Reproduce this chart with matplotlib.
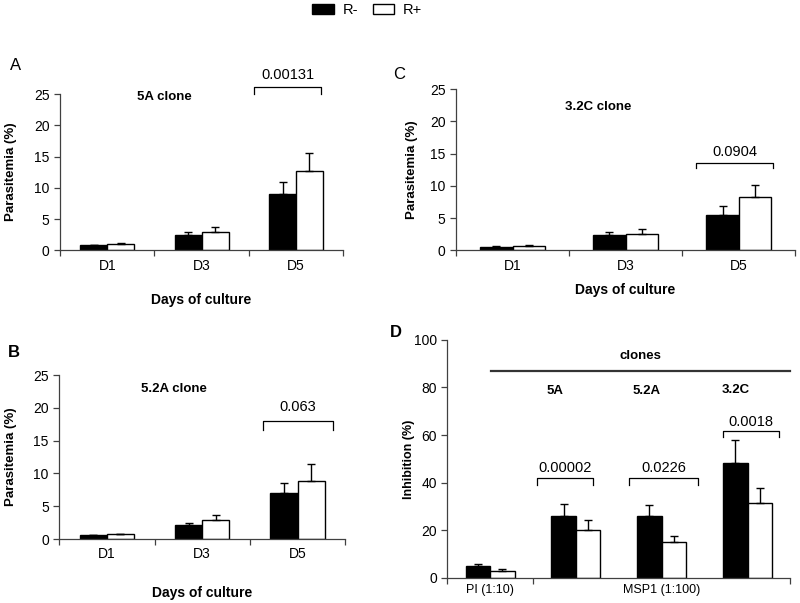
import numpy as np
import matplotlib
matplotlib.use('Agg')
import matplotlib.pyplot as plt
from matplotlib.patches import Patch

plt.rcParams['font.family'] = ['Liberation Sans', 'DejaVu Sans']
plt.rcParams['font.size'] = 10

# データ
days = ['D1', 'D3', 'D5']

a_rminus = [0.8, 2.4, 9.0]
a_rminus_err = [0.05, 0.5, 2.0]
a_rplus = [1.0, 3.0, 12.7]
a_rplus_err = [0.15, 0.7, 2.9]

b_rminus = [0.6, 2.1, 7.0]
b_rminus_err = [0.05, 0.35, 1.5]
b_rplus = [0.7, 2.9, 8.8]
b_rplus_err = [0.1, 0.8, 2.6]

c_rminus = [0.45, 2.3, 5.4]
c_rminus_err = [0.15, 0.5, 1.4]
c_rplus = [0.7, 2.6, 8.2]
c_rplus_err = [0.1, 0.7, 1.9]

d_groups = ['PI', '5A', '5.2A', '3.2C']
d_rminus = [4.9, 25.9, 25.9, 48.3]
d_rminus_err = [1.1, 5.3, 4.9, 9.5]
d_rplus = [3.1, 20.3, 15.1, 31.5]
d_rplus_err = [0.5, 3.9, 2.4, 6.1]

pvals_abc = ['0.00131', '0.063', '0.0904']
pvals_d = ['0.00002', '0.0226', '0.0018']

W = 0.285
AXCOL = '#404040'


def draw_bars(ax, rm, rm_err, rp, rp_err):
    x = np.arange(len(rm))
    ek = dict(ecolor='black', elinewidth=1, capsize=3, capthick=1)
    ax.bar(x - W / 2, rm, W, color='black', edgecolor='black', linewidth=1,
           yerr=[np.zeros(len(rm)), rm_err], error_kw=ek, zorder=2)
    ax.bar(x + W / 2, rp, W, color='white', edgecolor='black', linewidth=1,
           yerr=[np.zeros(len(rp)), rp_err], error_kw=ek, zorder=2)


def style_axes(ax, ymax, step):
    for s in ['top', 'right']:
        ax.spines[s].set_visible(False)
    for s in ['left', 'bottom']:
        ax.spines[s].set_linewidth(0.9)
        ax.spines[s].set_color(AXCOL)
    ax.set_ylim(0, ymax)
    ax.set_yticks(np.arange(0, ymax + 1, step))
    ax.tick_params(axis='y', direction='out', length=4, width=0.9, labelsize=10,
                   color=AXCOL)
    ax.tick_params(axis='x', which='major', direction='out', length=4, width=0.9,
                   color=AXCOL)
    ax.tick_params(axis='x', which='minor', length=0, labelsize=10, pad=6)


def bracket(ax, x0, x1, ytop, ybot, txt, ytxt):
    ax.plot([x0, x0, x1, x1], [ybot, ytop, ytop, ybot], color='black', lw=0.9,
            clip_on=False)
    ax.text((x0 + x1) / 2, ytxt, txt, ha='center', va='center', fontsize=10.5)


fig = plt.figure(figsize=(8, 6.03), dpi=100)

axA = fig.add_axes([0.075, 0.585, 0.354, 0.259])
axB = fig.add_axes([0.074, 0.106, 0.3575, 0.272])
axC = fig.add_axes([0.57, 0.585, 0.424, 0.267])
axD = fig.add_axes([0.559, 0.0415, 0.429, 0.395])

panels = [
    (axA, a_rminus, a_rminus_err, a_rplus, a_rplus_err, '5A clone', (0.61, 24.6),
     (1.56, 2.27, 26.1, 25.0, 28.0), -43 / 283, -0.32),
    (axB, b_rminus, b_rminus_err, b_rplus, b_rplus_err, '5.2A clone', (0.70, 22.8),
     (1.64, 2.375, 18.0, 16.7, 20.1), -42 / 286, -0.33),
    (axC, c_rminus, c_rminus_err, c_rplus, c_rplus_err, '3.2C clone', (0.76, 22.2),
     (1.62, 2.305, 13.6, 12.7, 15.2), -38 / 339, -0.25),
]

for i, (ax, rm, rme, rp, rpe, title, tpos, br, ylx, xly) in enumerate(panels):
    draw_bars(ax, rm, rme, rp, rpe)
    style_axes(ax, 25, 5)
    ax.set_xlim(-0.5, 2.5)
    ax.set_xticks([-0.5, 0.5, 1.5, 2.5])
    ax.set_xticklabels([])
    ax.set_xticks([0, 1, 2], minor=True)
    ax.set_xticklabels(days, minor=True)
    ax.text(tpos[0], tpos[1], title, ha='center', va='center', fontsize=9.5,
            fontweight='bold')
    bracket(ax, br[0], br[1], br[2], br[3], pvals_abc[i], br[4])
    ax.set_ylabel('Parasitemia (%)', fontsize=9.5, fontweight='bold')
    ax.yaxis.set_label_coords(ylx, 0.5)
    ax.text(0.5, xly, 'Days of culture', transform=ax.transAxes, ha='center',
            va='center', fontsize=10, fontweight='bold')

# パネルD
draw_bars(axD, d_rminus, d_rminus_err, d_rplus, d_rplus_err)
style_axes(axD, 100, 20)
axD.set_xlim(-0.5, 3.5)
axD.set_xticks([-0.5, 0.5, 3.5])
axD.set_xticklabels([])
axD.set_xticks([0, 2], minor=True)
axD.set_xticklabels(['PI (1:10)', 'MSP1 (1:100)'], minor=True)
axD.tick_params(axis='x', which='minor', labelsize=9, pad=4)
axD.set_ylabel('Inhibition (%)', fontsize=9, fontweight='bold')
axD.yaxis.set_label_coords(-32 / 343, 0.5)
bracket(axD, 0.55, 1.20, 42.0, 39.2, pvals_d[0], 46.2)
bracket(axD, 1.62, 2.42, 42.0, 39.2, pvals_d[1], 46.2)
bracket(axD, 2.71, 3.37, 61.5, 59.2, pvals_d[2], 65.3)
axD.plot([0.013, 3.49], [87, 87], color='#333333', lw=1.6, clip_on=False)
axD.text(1.75, 93, 'clones', ha='center', va='center', fontsize=9.5,
         fontweight='bold')
for lbl, xx, yy in zip(d_groups[1:], [0.76, 1.82, 2.86], [78.3, 78.3, 79.0]):
    axD.text(xx, yy, lbl, ha='center', va='center', fontsize=9.5,
             fontweight='bold')

# パネル記号
for letter, px, py, fw in [('A', 0.0125, 0.892, 'normal'), ('B', 0.01, 0.416, 'bold'),
                           ('C', 0.491, 0.876, 'normal'), ('D', 0.4875, 0.449, 'bold')]:
    fig.text(px, py, letter, fontsize=12, ha='left', va='center', fontweight=fw)

# 凡例
handles = [Patch(facecolor='black', edgecolor='black'),
           Patch(facecolor='white', edgecolor='black')]
fig.legend(handles, ['R-', 'R+'], loc='upper center', bbox_to_anchor=(0.459, 1.017),
           ncol=2, frameon=False, handlelength=1.5, handleheight=0.7,
           columnspacing=1.0, handletextpad=0.6, fontsize=10.5)

fig.savefig('out.png', dpi=100)
